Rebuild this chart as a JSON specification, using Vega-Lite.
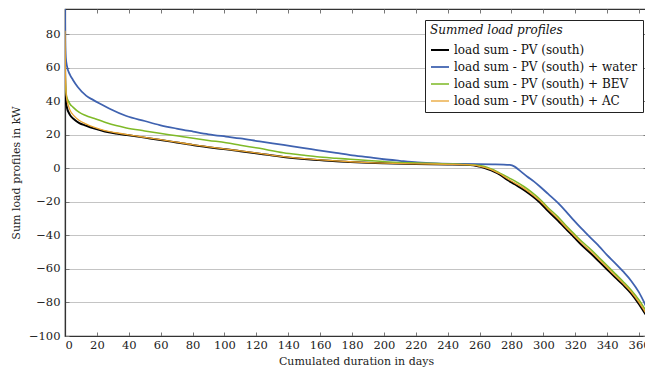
{
  "$schema": "https://vega.github.io/schema/vega-lite/v6.json",
  "width": 582,
  "height": 327,
  "autosize": {"type": "none"},
  "padding": {"left": 65, "top": 9, "right": 0, "bottom": 35},
  "config": {
    "font": "DejaVu Serif",
    "view": {"stroke": "#333", "strokeWidth": 1.2},
    "axis": {"labelFont": "DejaVu Serif", "titleFont": "DejaVu Serif", "labelFontSize": 11.5, "titleFontSize": 11, "titleFontWeight": "normal", "labelColor": "#222", "titleColor": "#222"}
  },
  "datasets": {
    "curves": [
      {"day": 0, "value": 58, "series": "load sum - PV (south)"},
      {"day": 0.3, "value": 42, "series": "load sum - PV (south)"},
      {"day": 1, "value": 37, "series": "load sum - PV (south)"},
      {"day": 3, "value": 32, "series": "load sum - PV (south)"},
      {"day": 6, "value": 29, "series": "load sum - PV (south)"},
      {"day": 9, "value": 27, "series": "load sum - PV (south)"},
      {"day": 13, "value": 25.5, "series": "load sum - PV (south)"},
      {"day": 18, "value": 23.8, "series": "load sum - PV (south)"},
      {"day": 25, "value": 22, "series": "load sum - PV (south)"},
      {"day": 32, "value": 20.8, "series": "load sum - PV (south)"},
      {"day": 40, "value": 19.7, "series": "load sum - PV (south)"},
      {"day": 50, "value": 18.3, "series": "load sum - PV (south)"},
      {"day": 60, "value": 16.9, "series": "load sum - PV (south)"},
      {"day": 70, "value": 15.4, "series": "load sum - PV (south)"},
      {"day": 80, "value": 13.9, "series": "load sum - PV (south)"},
      {"day": 90, "value": 12.6, "series": "load sum - PV (south)"},
      {"day": 101, "value": 11.3, "series": "load sum - PV (south)"},
      {"day": 110, "value": 10.2, "series": "load sum - PV (south)"},
      {"day": 122, "value": 8.7, "series": "load sum - PV (south)"},
      {"day": 137, "value": 6.8, "series": "load sum - PV (south)"},
      {"day": 150, "value": 5.6, "series": "load sum - PV (south)"},
      {"day": 158, "value": 5, "series": "load sum - PV (south)"},
      {"day": 170, "value": 4.2, "series": "load sum - PV (south)"},
      {"day": 179, "value": 3.8, "series": "load sum - PV (south)"},
      {"day": 190, "value": 3.3, "series": "load sum - PV (south)"},
      {"day": 200, "value": 3, "series": "load sum - PV (south)"},
      {"day": 220, "value": 2.6, "series": "load sum - PV (south)"},
      {"day": 240, "value": 2.3, "series": "load sum - PV (south)"},
      {"day": 250, "value": 2.1, "series": "load sum - PV (south)"},
      {"day": 256, "value": 1.8, "series": "load sum - PV (south)"},
      {"day": 260, "value": 1, "series": "load sum - PV (south)"},
      {"day": 265, "value": -0.5, "series": "load sum - PV (south)"},
      {"day": 269, "value": -2, "series": "load sum - PV (south)"},
      {"day": 273, "value": -4, "series": "load sum - PV (south)"},
      {"day": 277, "value": -6.6, "series": "load sum - PV (south)"},
      {"day": 282, "value": -9.5, "series": "load sum - PV (south)"},
      {"day": 288, "value": -13, "series": "load sum - PV (south)"},
      {"day": 293, "value": -16.5, "series": "load sum - PV (south)"},
      {"day": 298, "value": -20.5, "series": "load sum - PV (south)"},
      {"day": 303, "value": -25.5, "series": "load sum - PV (south)"},
      {"day": 309, "value": -31, "series": "load sum - PV (south)"},
      {"day": 314, "value": -36, "series": "load sum - PV (south)"},
      {"day": 319, "value": -40.8, "series": "load sum - PV (south)"},
      {"day": 324, "value": -45.7, "series": "load sum - PV (south)"},
      {"day": 330, "value": -50.9, "series": "load sum - PV (south)"},
      {"day": 335, "value": -55.6, "series": "load sum - PV (south)"},
      {"day": 340, "value": -60.3, "series": "load sum - PV (south)"},
      {"day": 345, "value": -65, "series": "load sum - PV (south)"},
      {"day": 350, "value": -69.5, "series": "load sum - PV (south)"},
      {"day": 355, "value": -74.5, "series": "load sum - PV (south)"},
      {"day": 360, "value": -81, "series": "load sum - PV (south)"},
      {"day": 365, "value": -88.5, "series": "load sum - PV (south)"},

      {"day": 0, "value": 100, "series": "load sum - PV (south) + water"},
      {"day": 0.15, "value": 76, "series": "load sum - PV (south) + water"},
      {"day": 0.5, "value": 66, "series": "load sum - PV (south) + water"},
      {"day": 1.3, "value": 60.7, "series": "load sum - PV (south) + water"},
      {"day": 3, "value": 56, "series": "load sum - PV (south) + water"},
      {"day": 5, "value": 52.7, "series": "load sum - PV (south) + water"},
      {"day": 8, "value": 48.5, "series": "load sum - PV (south) + water"},
      {"day": 13.4, "value": 43.2, "series": "load sum - PV (south) + water"},
      {"day": 17.6, "value": 40.8, "series": "load sum - PV (south) + water"},
      {"day": 22, "value": 38.5, "series": "load sum - PV (south) + water"},
      {"day": 28, "value": 35.5, "series": "load sum - PV (south) + water"},
      {"day": 38.5, "value": 31.2, "series": "load sum - PV (south) + water"},
      {"day": 50, "value": 28.2, "series": "load sum - PV (south) + water"},
      {"day": 59.4, "value": 25.8, "series": "load sum - PV (south) + water"},
      {"day": 70, "value": 23.7, "series": "load sum - PV (south) + water"},
      {"day": 80.4, "value": 21.9, "series": "load sum - PV (south) + water"},
      {"day": 90, "value": 20.3, "series": "load sum - PV (south) + water"},
      {"day": 101, "value": 18.9, "series": "load sum - PV (south) + water"},
      {"day": 110, "value": 17.8, "series": "load sum - PV (south) + water"},
      {"day": 122, "value": 16, "series": "load sum - PV (south) + water"},
      {"day": 137, "value": 13.9, "series": "load sum - PV (south) + water"},
      {"day": 150, "value": 12, "series": "load sum - PV (south) + water"},
      {"day": 158, "value": 10.9, "series": "load sum - PV (south) + water"},
      {"day": 170, "value": 9.2, "series": "load sum - PV (south) + water"},
      {"day": 179, "value": 7.9, "series": "load sum - PV (south) + water"},
      {"day": 190, "value": 6.6, "series": "load sum - PV (south) + water"},
      {"day": 200, "value": 5.4, "series": "load sum - PV (south) + water"},
      {"day": 210, "value": 4.5, "series": "load sum - PV (south) + water"},
      {"day": 221, "value": 3.6, "series": "load sum - PV (south) + water"},
      {"day": 233, "value": 3, "series": "load sum - PV (south) + water"},
      {"day": 250, "value": 2.6, "series": "load sum - PV (south) + water"},
      {"day": 270, "value": 2.4, "series": "load sum - PV (south) + water"},
      {"day": 279, "value": 2, "series": "load sum - PV (south) + water"},
      {"day": 282, "value": 1, "series": "load sum - PV (south) + water"},
      {"day": 286, "value": -2, "series": "load sum - PV (south) + water"},
      {"day": 290, "value": -5, "series": "load sum - PV (south) + water"},
      {"day": 294, "value": -7.8, "series": "load sum - PV (south) + water"},
      {"day": 298, "value": -11, "series": "load sum - PV (south) + water"},
      {"day": 303, "value": -15.3, "series": "load sum - PV (south) + water"},
      {"day": 309, "value": -20.5, "series": "load sum - PV (south) + water"},
      {"day": 314, "value": -25.5, "series": "load sum - PV (south) + water"},
      {"day": 319, "value": -30.9, "series": "load sum - PV (south) + water"},
      {"day": 324, "value": -36, "series": "load sum - PV (south) + water"},
      {"day": 330, "value": -41.8, "series": "load sum - PV (south) + water"},
      {"day": 335, "value": -46.5, "series": "load sum - PV (south) + water"},
      {"day": 340, "value": -51.8, "series": "load sum - PV (south) + water"},
      {"day": 345, "value": -56.5, "series": "load sum - PV (south) + water"},
      {"day": 350, "value": -61.5, "series": "load sum - PV (south) + water"},
      {"day": 355, "value": -67, "series": "load sum - PV (south) + water"},
      {"day": 360, "value": -74, "series": "load sum - PV (south) + water"},
      {"day": 365, "value": -83.5, "series": "load sum - PV (south) + water"},

      {"day": 0, "value": 66, "series": "load sum - PV (south) + BEV"},
      {"day": 0.3, "value": 50, "series": "load sum - PV (south) + BEV"},
      {"day": 1, "value": 43, "series": "load sum - PV (south) + BEV"},
      {"day": 3, "value": 38.5, "series": "load sum - PV (south) + BEV"},
      {"day": 5, "value": 36.5, "series": "load sum - PV (south) + BEV"},
      {"day": 9, "value": 33.3, "series": "load sum - PV (south) + BEV"},
      {"day": 13, "value": 31.5, "series": "load sum - PV (south) + BEV"},
      {"day": 18, "value": 29.8, "series": "load sum - PV (south) + BEV"},
      {"day": 25, "value": 27.5, "series": "load sum - PV (south) + BEV"},
      {"day": 32, "value": 25.5, "series": "load sum - PV (south) + BEV"},
      {"day": 38.5, "value": 24.1, "series": "load sum - PV (south) + BEV"},
      {"day": 50, "value": 22.3, "series": "load sum - PV (south) + BEV"},
      {"day": 59.4, "value": 20.9, "series": "load sum - PV (south) + BEV"},
      {"day": 70, "value": 19.4, "series": "load sum - PV (south) + BEV"},
      {"day": 80.4, "value": 17.9, "series": "load sum - PV (south) + BEV"},
      {"day": 90, "value": 16.6, "series": "load sum - PV (south) + BEV"},
      {"day": 101, "value": 15.3, "series": "load sum - PV (south) + BEV"},
      {"day": 110, "value": 13.8, "series": "load sum - PV (south) + BEV"},
      {"day": 122, "value": 11.9, "series": "load sum - PV (south) + BEV"},
      {"day": 137, "value": 9.3, "series": "load sum - PV (south) + BEV"},
      {"day": 150, "value": 7.8, "series": "load sum - PV (south) + BEV"},
      {"day": 158, "value": 6.9, "series": "load sum - PV (south) + BEV"},
      {"day": 170, "value": 6, "series": "load sum - PV (south) + BEV"},
      {"day": 179, "value": 5.4, "series": "load sum - PV (south) + BEV"},
      {"day": 190, "value": 4.6, "series": "load sum - PV (south) + BEV"},
      {"day": 200, "value": 4, "series": "load sum - PV (south) + BEV"},
      {"day": 210, "value": 3.5, "series": "load sum - PV (south) + BEV"},
      {"day": 221, "value": 3.2, "series": "load sum - PV (south) + BEV"},
      {"day": 240, "value": 2.6, "series": "load sum - PV (south) + BEV"},
      {"day": 250, "value": 2.3, "series": "load sum - PV (south) + BEV"},
      {"day": 256, "value": 2, "series": "load sum - PV (south) + BEV"},
      {"day": 260, "value": 1.6, "series": "load sum - PV (south) + BEV"},
      {"day": 265, "value": 0.5, "series": "load sum - PV (south) + BEV"},
      {"day": 269, "value": -1, "series": "load sum - PV (south) + BEV"},
      {"day": 273, "value": -3, "series": "load sum - PV (south) + BEV"},
      {"day": 277, "value": -5, "series": "load sum - PV (south) + BEV"},
      {"day": 282, "value": -7.5, "series": "load sum - PV (south) + BEV"},
      {"day": 288, "value": -11, "series": "load sum - PV (south) + BEV"},
      {"day": 293, "value": -14.5, "series": "load sum - PV (south) + BEV"},
      {"day": 298, "value": -18.6, "series": "load sum - PV (south) + BEV"},
      {"day": 303, "value": -23.5, "series": "load sum - PV (south) + BEV"},
      {"day": 309, "value": -28.8, "series": "load sum - PV (south) + BEV"},
      {"day": 314, "value": -34, "series": "load sum - PV (south) + BEV"},
      {"day": 319, "value": -38.8, "series": "load sum - PV (south) + BEV"},
      {"day": 324, "value": -43.5, "series": "load sum - PV (south) + BEV"},
      {"day": 330, "value": -48.6, "series": "load sum - PV (south) + BEV"},
      {"day": 335, "value": -53.3, "series": "load sum - PV (south) + BEV"},
      {"day": 340, "value": -58, "series": "load sum - PV (south) + BEV"},
      {"day": 345, "value": -62.8, "series": "load sum - PV (south) + BEV"},
      {"day": 350, "value": -67.5, "series": "load sum - PV (south) + BEV"},
      {"day": 355, "value": -72.5, "series": "load sum - PV (south) + BEV"},
      {"day": 360, "value": -78.5, "series": "load sum - PV (south) + BEV"},
      {"day": 365, "value": -86, "series": "load sum - PV (south) + BEV"},

      {"day": 0, "value": 82, "series": "load sum - PV (south) + AC"},
      {"day": 0.3, "value": 55, "series": "load sum - PV (south) + AC"},
      {"day": 1, "value": 42, "series": "load sum - PV (south) + AC"},
      {"day": 3, "value": 35, "series": "load sum - PV (south) + AC"},
      {"day": 6, "value": 31, "series": "load sum - PV (south) + AC"},
      {"day": 9, "value": 28.5, "series": "load sum - PV (south) + AC"},
      {"day": 13, "value": 26.5, "series": "load sum - PV (south) + AC"},
      {"day": 18, "value": 24.5, "series": "load sum - PV (south) + AC"},
      {"day": 25, "value": 22.5, "series": "load sum - PV (south) + AC"},
      {"day": 32, "value": 21.2, "series": "load sum - PV (south) + AC"},
      {"day": 40, "value": 19.9, "series": "load sum - PV (south) + AC"},
      {"day": 50, "value": 18.5, "series": "load sum - PV (south) + AC"},
      {"day": 60, "value": 17.1, "series": "load sum - PV (south) + AC"},
      {"day": 70, "value": 15.6, "series": "load sum - PV (south) + AC"},
      {"day": 80, "value": 14.1, "series": "load sum - PV (south) + AC"},
      {"day": 90, "value": 12.8, "series": "load sum - PV (south) + AC"},
      {"day": 101, "value": 11.5, "series": "load sum - PV (south) + AC"},
      {"day": 110, "value": 10.4, "series": "load sum - PV (south) + AC"},
      {"day": 122, "value": 8.9, "series": "load sum - PV (south) + AC"},
      {"day": 137, "value": 7, "series": "load sum - PV (south) + AC"},
      {"day": 150, "value": 5.8, "series": "load sum - PV (south) + AC"},
      {"day": 158, "value": 5.2, "series": "load sum - PV (south) + AC"},
      {"day": 170, "value": 4.4, "series": "load sum - PV (south) + AC"},
      {"day": 179, "value": 3.9, "series": "load sum - PV (south) + AC"},
      {"day": 190, "value": 3.4, "series": "load sum - PV (south) + AC"},
      {"day": 200, "value": 3.1, "series": "load sum - PV (south) + AC"},
      {"day": 220, "value": 2.7, "series": "load sum - PV (south) + AC"},
      {"day": 240, "value": 2.4, "series": "load sum - PV (south) + AC"},
      {"day": 250, "value": 2.2, "series": "load sum - PV (south) + AC"},
      {"day": 256, "value": 1.9, "series": "load sum - PV (south) + AC"},
      {"day": 260, "value": 1.2, "series": "load sum - PV (south) + AC"},
      {"day": 265, "value": 0, "series": "load sum - PV (south) + AC"},
      {"day": 269, "value": -1.5, "series": "load sum - PV (south) + AC"},
      {"day": 273, "value": -3.4, "series": "load sum - PV (south) + AC"},
      {"day": 277, "value": -5.9, "series": "load sum - PV (south) + AC"},
      {"day": 282, "value": -8.7, "series": "load sum - PV (south) + AC"},
      {"day": 288, "value": -12.1, "series": "load sum - PV (south) + AC"},
      {"day": 293, "value": -15.6, "series": "load sum - PV (south) + AC"},
      {"day": 298, "value": -19.5, "series": "load sum - PV (south) + AC"},
      {"day": 303, "value": -24.4, "series": "load sum - PV (south) + AC"},
      {"day": 309, "value": -29.9, "series": "load sum - PV (south) + AC"},
      {"day": 314, "value": -35, "series": "load sum - PV (south) + AC"},
      {"day": 319, "value": -39.8, "series": "load sum - PV (south) + AC"},
      {"day": 324, "value": -44.6, "series": "load sum - PV (south) + AC"},
      {"day": 330, "value": -49.8, "series": "load sum - PV (south) + AC"},
      {"day": 335, "value": -54.5, "series": "load sum - PV (south) + AC"},
      {"day": 340, "value": -59.2, "series": "load sum - PV (south) + AC"},
      {"day": 345, "value": -64, "series": "load sum - PV (south) + AC"},
      {"day": 350, "value": -68.6, "series": "load sum - PV (south) + AC"},
      {"day": 355, "value": -73.6, "series": "load sum - PV (south) + AC"},
      {"day": 360, "value": -80, "series": "load sum - PV (south) + AC"},
      {"day": 365, "value": -87.5, "series": "load sum - PV (south) + AC"}
    ]
  },
  "data": {"name": "curves"},
  "layer": [
    {
      "mark": {"type": "line", "opacity": 0, "clip": true},
      "encoding": {
        "x": {"field": "day", "type": "quantitative", "scale": {"domain": [0, 365], "nice": false, "zero": false},
          "axis": {"orient": "top", "values": [0,20,40,60,80,100,120,140,160,180,200,220,240,260,280,300,320,340,360], "labels": false, "title": null, "grid": false, "domain": false, "tickSize": -4, "tickColor": "#777"}},
        "y": {"field": "value", "type": "quantitative", "scale": {"domain": [-100, 95], "nice": false, "zero": false},
          "axis": {"orient": "right", "values": [-100,-80,-60,-40,-20,0,20,40,60,80], "labels": false, "title": null, "grid": false, "domain": false, "tickSize": -4, "tickColor": "#777"}}
      }
    },
    {
      "mark": {"type": "line", "interpolate": "monotone", "clip": true},
      "encoding": {
        "x": {"field": "day", "type": "quantitative", "scale": {"domain": [0, 365], "nice": false, "zero": false},
          "axis": {"orient": "bottom", "values": [0,20,40,60,80,100,120,140,160,180,200,220,240,260,280,300,320,340,360], "title": "Cumulated duration in days", "grid": false, "tickSize": -4, "tickColor": "#777", "domainColor": "#333", "domainWidth": 1.2, "labelPadding": 7, "titlePadding": 5}},
        "y": {"field": "value", "type": "quantitative", "scale": {"domain": [-100, 95], "nice": false, "zero": false},
          "axis": {"orient": "left", "values": [-100,-80,-60,-40,-20,0,20,40,60,80], "title": "Sum load profiles in kW", "grid": true, "gridColor": "#c4c4c4", "gridWidth": 1, "tickSize": -4, "tickColor": "#777", "domainColor": "#333", "domainWidth": 1.2, "labelPadding": 9, "titlePadding": 7}},
        "color": {"field": "series", "type": "nominal",
          "scale": {"domain": ["load sum - PV (south)", "load sum - PV (south) + water", "load sum - PV (south) + BEV", "load sum - PV (south) + AC"], "range": ["#000000", "#3f62b0", "#7fba28", "#e8a331"]},
          "legend": {"title": "Summed load profiles", "orient": "none", "legendX": 360, "legendY": 11, "titleFontStyle": "italic", "titleFontWeight": "normal", "titleFontSize": 12, "titleFont": "DejaVu Serif", "labelFont": "DejaVu Serif", "labelFontSize": 12, "labelColor": "#111", "titleColor": "#111", "symbolType": "stroke", "symbolSize": 324, "symbolStrokeWidth": 2, "strokeColor": "#222", "fillColor": "white", "padding": 5, "rowPadding": 1, "labelLimit": 300, "titlePadding": 3, "labelOffset": 4}},
        "strokeWidth": {"field": "series", "type": "nominal", "scale": {"domain": ["load sum - PV (south)", "load sum - PV (south) + water", "load sum - PV (south) + BEV", "load sum - PV (south) + AC"], "range": [2, 1.3, 1.3, 1.3]}, "legend": null}
      }
    }
  ],
  "resolve": {"axis": {"x": "independent", "y": "independent"}}
}
